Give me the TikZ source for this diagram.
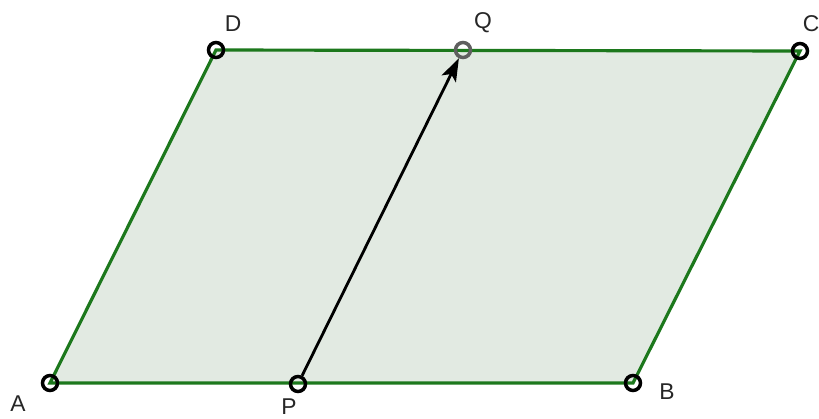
\documentclass[tikz,border=0pt]{standalone}
\usepackage{fontspec}
\setmainfont{Liberation Sans}
\usetikzlibrary{arrows.meta}
\definecolor{edgegreen}{RGB}{28,120,28}
\definecolor{facegreen}{RGB}{226,234,226}
\definecolor{ptgrey}{RGB}{95,95,95}

\begin{document}
\begin{tikzpicture}[x=0.02cm,y=-0.02cm,
    pt/.style={circle,draw=black,line width=2pt,inner sep=0pt,minimum size=0.3cm},
    lbl/.style={font=\fontsize{13}{15}\selectfont,text=black!85}]
    \useasboundingbox (0,0) rectangle (819,419);

    % Corner points
    \coordinate (a) at (50,383);
    \coordinate (b) at (633,383);
    \coordinate (c) at (800,51);
    \coordinate (d) at (216,50);

    % Face and edges
    \fill[facegreen] (a) -- (b) -- (c) -- (d) -- cycle;
    \draw[edgegreen,line width=1.8pt] (a) -- (b) -- (c) -- (d) -- cycle;

    % Points
    \node[pt] (A) at (a) {};
    \node[pt] (B) at (b) {};
    \node[pt] (C) at (c) {};
    \node[pt] (D) at (d) {};
    \node[pt] (P) at (298,384) {};
    \node[pt,draw=ptgrey] (Q) at (463,50) {};

    % Labels
    \node[lbl] (lA) at (18,404) {A};
    \node[lbl] (lB) at (667,392) {B};
    \node[lbl] (lC) at (811,24) {C};
    \node[lbl] (lD) at (233,24) {D};
    \node[lbl] (lP) at (289,407) {P};
    \node[lbl] (lQ) at (483,23) {Q};

    % Vector PQ
    \draw[-{Stealth[length=13pt,width=9pt,inset=3pt]},line width=1.6pt] (P) -- (Q);
\end{tikzpicture}
\end{document}
